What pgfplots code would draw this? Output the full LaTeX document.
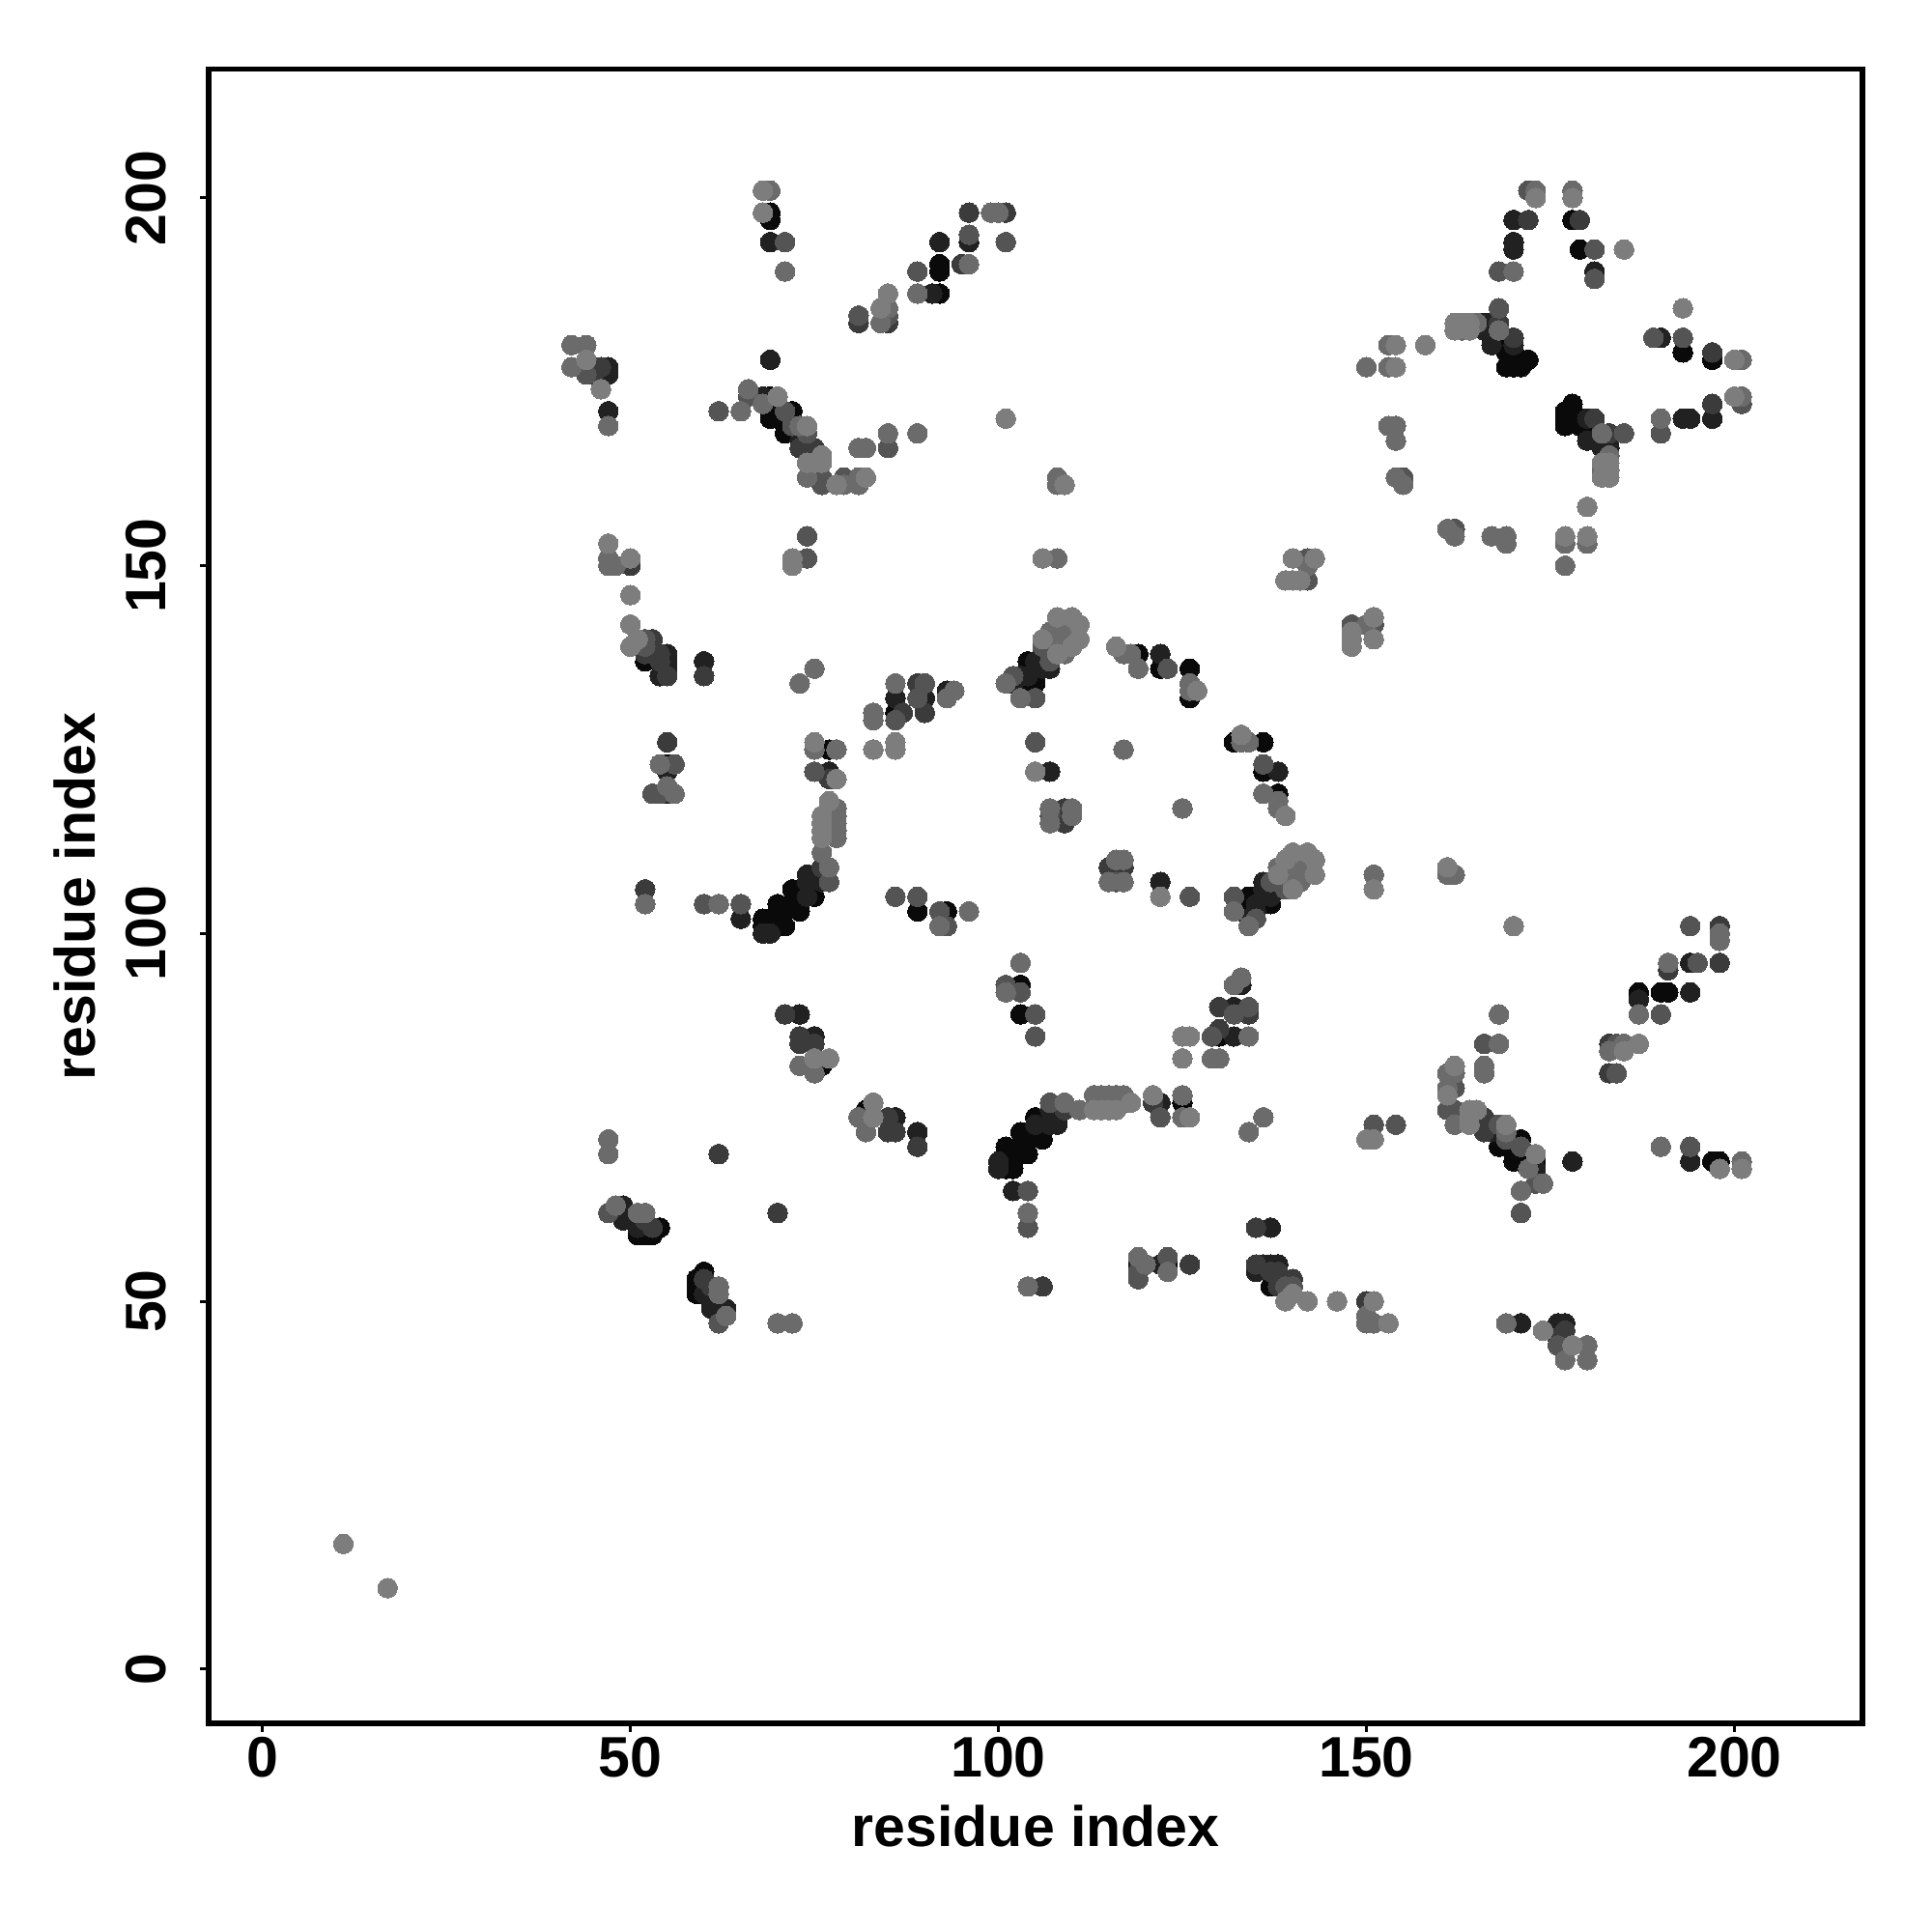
\documentclass[border=0pt]{standalone}
\usepackage{pgfplots}
\usepackage{pgfplotstable}
\usepackage{fontspec}
\setmainfont{Liberation Sans}
\pgfplotsset{compat=1.18}
\pgfplotstableread{
a b
69 198
69 197
92 191
92 190
92 187
69 173
69 171
69 170
70 170
72 171
71 169
71 168
52 137
77 125
75 107
72 106
73 106
75 105
72 104
73 103
70 104
71 103
70 103
68 102
69 102
71 101
70 101
68 101
86 130
55 123
89 103
93 103
75 82
76 82
82 76
82 75
60 54
59 53
59 52
59 51
54 60
51 59
52 59
53 59
50 61
122 136
119 138
126 136
126 132
104 137
104 136
103 134
105 134
104 134
105 135
167 181
168 180
169 179
170 179
169 177
170 177
171 177
172 178
171 178
170 178
179 193
178 197
}\tA
\pgfplotstableread{
a b
69 194
92 194
96 194
91 187
47 177
47 176
46 176
47 171
69 178
68 173
73 167
55 138
55 137
55 136
54 135
60 137
86 132
74 108
75 108
76 107
74 107
74 105
68 100
69 100
77 122
55 122
55 119
65 102
93 133
90 132
73 89
75 86
89 73
86 75
49 63
49 62
49 61
51 61
60 51
61 49
63 49
62 49
107 139
106 138
105 137
106 136
107 136
103 135
104 135
102 134
122 138
107 122
170 197
170 194
170 193
181 190
166 183
167 183
166 182
167 180
170 180
}\tB
\pgfplotstableread{
a b
96 198
101 198
95 191
85 183
81 183
45 177
46 177
45 176
73 166
75 166
53 140
50 150
52 138
54 138
54 137
55 135
60 135
89 134
87 130
90 130
76 109
55 126
52 106
77 121
60 53
71 89
73 85
75 85
73 86
85 73
86 73
85 75
89 71
62 70
70 62
53 60
61 52
62 47
107 138
109 117
109 116
109 115
168 183
170 181
179 197
172 197
}\tC
\pgfplotstableread{
a b
71 194
101 194
96 195
85 184
81 184
44 176
66 173
62 171
71 171
72 169
74 168
76 162
76 161
79 162
85 166
89 190
52 140
52 139
74 154
74 151
89 132
90 134
86 129
77 117
77 107
75 122
53 119
54 119
56 123
60 104
65 104
86 105
89 105
92 103
93 101
47 62
106 139
102 135
105 126
105 132
109 141
123 136
107 116
107 137
142 151
142 148
168 185
172 201
181 193
168 190
181 189
155 162
}\tD
\pgfplotstableread{
a b
69 201
99 198
100 198
71 190
96 191
89 187
85 185
84 183
42 180
44 180
42 177
47 169
66 174
65 171
68 172
73 169
74 162
79 161
81 162
81 161
81 166
82 166
85 168
89 168
47 151
47 150
48 150
54 123
55 120
56 119
75 136
73 134
86 134
94 133
93 132
83 130
83 129
75 125
78 125
78 117
78 116
77 115
78 115
78 114
78 113
76 111
77 109
52 104
62 104
92 101
96 103
47 72
47 70
73 82
75 81
81 75
82 73
48 63
51 62
52 62
62 52
62 51
63 48
70 47
72 47
108 162
108 161
108 151
108 142
110 142
110 141
107 140
108 141
108 140
110 140
109 139
109 138
101 134
103 132
119 136
126 134
126 133
117 138
118 138
117 125
107 117
110 116
110 117
107 115
107 141
109 142
142 150
173 201
178 201
168 182
165 183
163 182
150 177
153 177
153 180
153 169
154 169
154 167
154 162
155 161
170 190
}\tE
\pgfplotstableread{
a b
11 17
68 201
68 198
85 187
84 185
44 178
46 174
70 173
74 169
76 165
74 164
75 164
76 164
78 161
82 162
101 170
47 153
50 151
50 146
50 142
50 139
51 140
72 151
72 150
75 126
86 126
83 125
86 125
78 121
77 118
76 116
76 115
76 114
76 113
83 77
83 75
75 83
77 83
109 161
106 151
108 143
110 143
111 142
106 140
111 140
108 138
116 139
127 133
105 122
110 139
140 151
143 151
139 148
140 148
141 148
173 200
178 200
185 193
162 183
163 183
164 183
162 182
164 182
154 180
158 180
154 177
}\tF
\newcommand\lv[2]{%
  \addplot[only marks,mark=*,mark size=2.9pt,color=black!#1,mark options={line width=0pt,draw=none,fill=black!#1}] table[x=a,y=b] {#2};
  \addplot[only marks,mark=*,mark size=2.9pt,color=black!#1,mark options={line width=0pt,draw=none,fill=black!#1}] table[x=b,y=a] {#2};
}
\begin{document}
\begin{tikzpicture}[x=1mm,y=1mm]
\useasboundingbox (0,0) rectangle (200,200);
\begin{axis}[
  at={(21.63mm,21.6mm)}, anchor=south west,
  width=171.17mm, height=171.23mm, scale only axis,
  xmin=-7.27, xmax=217.4, ymin=-7.39, ymax=217.5,
  every axis/.append style={line width=1.6pt},
  tick style={line width=0.85pt,color=black},
  major tick length=0.9mm,
  tick align=outside, tick pos=lower,
  xtick={0,50,100,150,200}, ytick={0,50,100,150,200},
  ticklabel style={font=\fontsize{16.8}{20}\selectfont\bfseries},
  /pgf/number format/assume math mode=true,
  yticklabel style={rotate=90,anchor=base,yshift=3.6mm},
  xticklabel style={anchor=base,yshift=-4.6mm},
  xlabel={residue index}, ylabel={residue index},
  label style={font=\fontsize{16.8}{20}\selectfont\bfseries},
  xlabel style={at={(axis description cs:0.5,-0.0742)},anchor=base},
  ylabel style={at={(axis description cs:-0.0689,0.5)},anchor=base},
]
\lv{96}{\tA}
\lv{87}{\tB}
\lv{77}{\tC}
\lv{67}{\tD}
\lv{58}{\tE}
\lv{51}{\tF}
\end{axis}
\end{tikzpicture}
\end{document}
